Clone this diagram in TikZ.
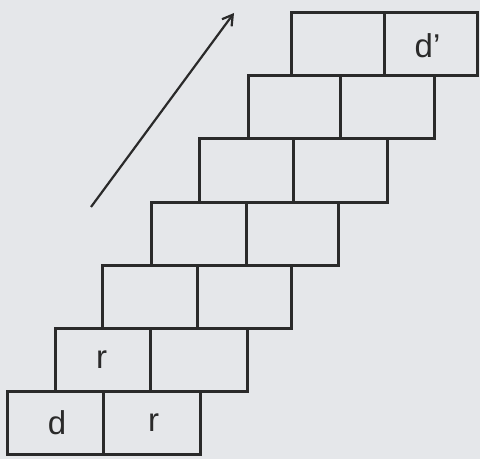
\documentclass[tikz,border=0pt]{standalone}
\usepackage{fontspec}
\setmainfont{Liberation Sans}
\usetikzlibrary{arrows.meta}
\definecolor{paper}{HTML}{E5E7EA}
\definecolor{ink}{HTML}{2A2A2A}
\tikzset{
  cell/.style={draw=ink, line width=3pt, minimum height=63pt, inner sep=0pt, outer sep=0pt},
  lbl/.style={font=\fontsize{33}{36}\selectfont, text=ink},
  arrowline/.style={draw=ink, line width=2.2pt, -{Straight Barb[length=10pt,width=12pt]}}
}
\begin{document}
\begin{tikzpicture}[x=1pt,y=1pt]
\fill[paper] (0,0) rectangle (480,459);
\useasboundingbox (0,0) rectangle (480,459);
\foreach \i/\l/\m/\r in {0/7/103/200, 1/55/150/247, 2/102/197/291, 3/151/246/338, 4/199/293/387, 5/248/340/434, 6/291/384/477}{
  \pgfmathsetmacro{\cy}{459-422.5+63*\i}
  \pgfmathsetmacro{\wa}{\m-\l}
  \pgfmathsetmacro{\wb}{\r-\m}
  \node[cell, minimum width=\wa pt] (c\i a) at ({(\l+\m)/2},\cy) {};
  \node[cell, minimum width=\wb pt] (c\i b) at ({(\m+\r)/2},\cy) {};
}
\node[lbl] (ld) at ([xshift=2pt]c0a.center) {d};
\node[lbl] (lr0) at ([xshift=2pt]c0b.center) {r};
\node[lbl] (lr1) at ([xshift=-1pt]c1a.center) {r};
\node[lbl] (ldp) at ([xshift=-3pt,yshift=-1pt]c6b.center) {d’};
\coordinate (as) at (91,252);
\coordinate (ae) at (234,446);
\draw[arrowline] (as) -- (ae);
\end{tikzpicture}
\end{document}
